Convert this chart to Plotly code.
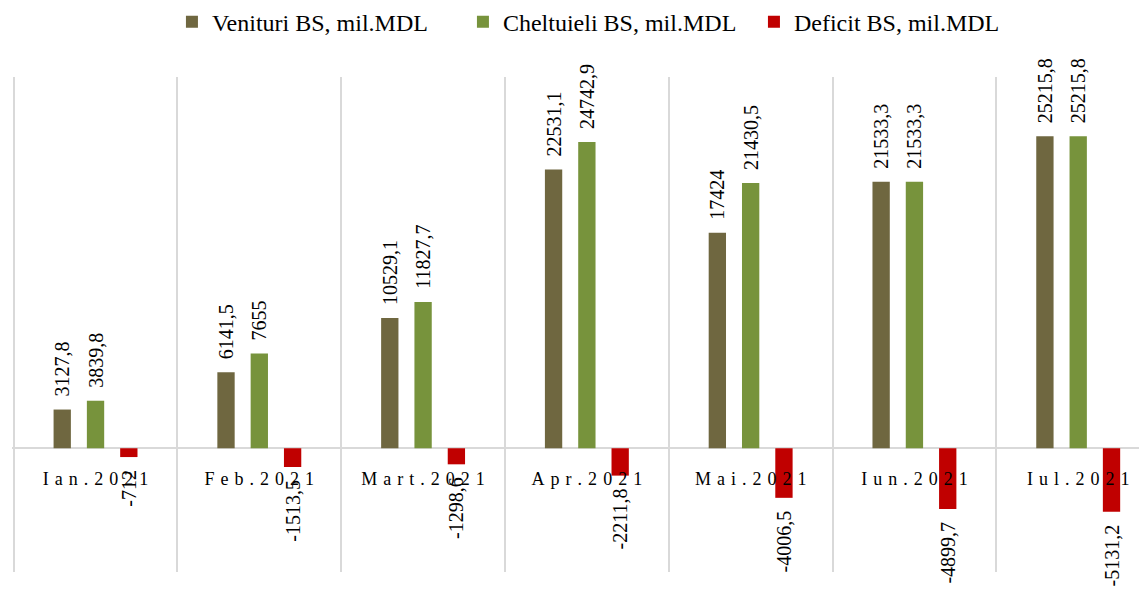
import plotly.graph_objects as go

luni = ["Ian.2021", "Feb.2021", "Mart.2021", "Apr.2021", "Mai.2021", "Iun.2021", "Iul.2021"]
venituri = [3127.8, 6141.5, 10529.1, 22531.1, 17424, 21533.3, 25215.8]
cheltuieli = [3839.8, 7655, 11827.7, 24742.9, 21430.5, 21533.3, 25215.8]
deficit = [-712, -1513.5, -1298.6, -2211.8, -4006.5, -4899.7, -5131.2]

SP = "\u2002"  # mic spațiu între bară și etichetă


def eticheta(v):
    # format românesc: virgulă zecimală
    s = f"{v:g}".replace(".", ",")
    return SP + s if v >= 0 else s + SP


def rarit(s):
    # imită spațierea literelor din graficul original
    return "\u2004".join(s)


serii = [
    ("Venituri BS, mil.MDL", venituri, "#6f6740"),
    ("Cheltuieli BS, mil.MDL", cheltuieli, "#77933c"),
    ("Deficit BS, mil.MDL", deficit, "#c00000"),
]

fig = go.Figure()
for nume, valori, culoare in serii:
    fig.add_trace(go.Bar(
        x=luni,
        y=valori,
        name=nume,
        marker=dict(color=culoare, line=dict(width=0)),
        text=[eticheta(v) for v in valori],
        textposition="outside",
        textangle=-90,
        constraintext="none",
        cliponaxis=False,
        textfont=dict(family="Liberation Serif", size=20, color="#000000"),
    ))

fig.update_layout(
    width=1139,
    height=585,
    margin=dict(l=4, r=0, t=69, b=21, autoexpand=False),
    plot_bgcolor="white",
    paper_bgcolor="white",
    barmode="group",
    bargap=0.39,
    bargroupgap=0.48,
    legend=dict(
        orientation="h",
        x=0.5255,
        xanchor="center",
        y=1.111,
        yanchor="middle",
        font=dict(family="Liberation Serif", size=24, color="#000000"),
        entrywidth=246,
        entrywidthmode="pixels",
        tracegroupgap=0,
    ),
    font=dict(family="Liberation Serif", color="#000000"),
)

fig.update_xaxes(
    type="category",
    tickmode="array",
    tickvals=luni,
    ticktext=[rarit(l) for l in luni],
    range=[-0.51, 6.42],
    anchor="free",
    position=0.25,
    tickson="boundaries",
    showgrid=True,
    gridcolor="#d9d9d9",
    gridwidth=2,
    ticks="",
    ticklabelstandoff=18,
    tickfont=dict(family="Liberation Serif", size=18, color="#000000"),
    showline=False,
    zeroline=False,
    automargin=False,
)

fig.update_yaxes(
    range=[-10000, 30000],
    showgrid=False,
    showticklabels=False,
    zeroline=True,
    zerolinecolor="#d9d9d9",
    zerolinewidth=2,
    automargin=False,
)

fig.write_html("out.html")
